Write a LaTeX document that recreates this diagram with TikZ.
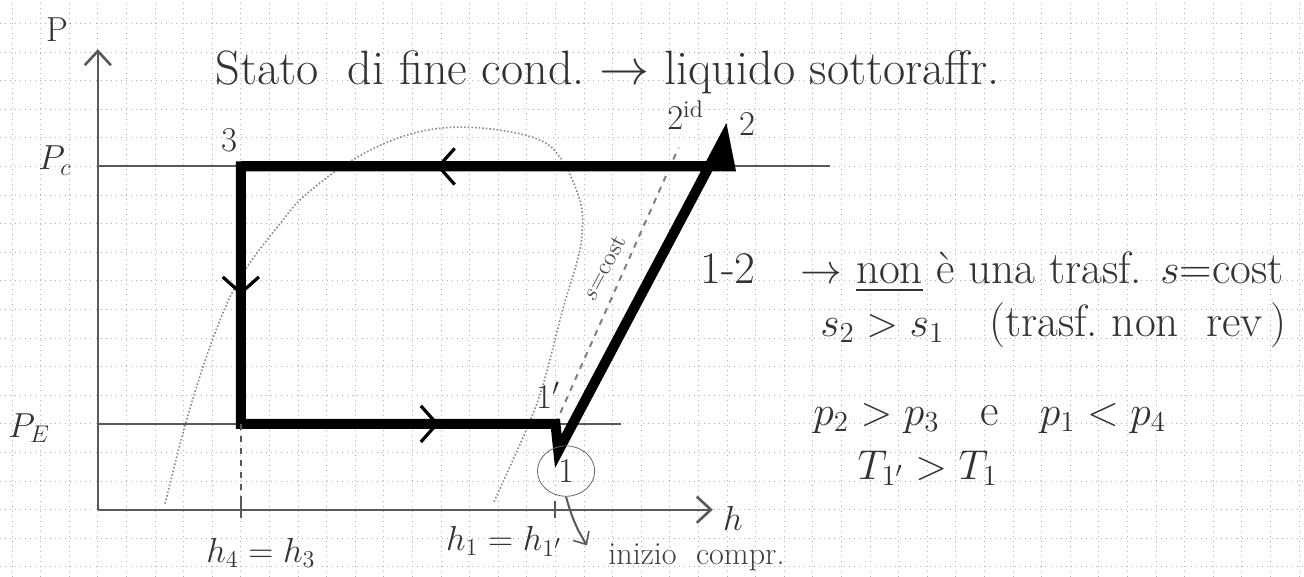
\documentclass[tikz,border=0pt]{standalone}
\usepackage{fontspec}
\usepackage{amsmath}
\usetikzlibrary{arrows.meta,positioning,decorations.markings,shapes.geometric}

\begin{document}
\begin{tikzpicture}[x=5mm,y=5mm,
  >={Straight Barb[length=7pt,width=13pt,line width=1.3pt]},
  paper/.style={gray!60,dotted,line width=0.5pt},
  guide/.style={line width=1pt,black!65},
  cyc/.style={line width=5pt,black,line join=miter},
  flow/.style={line width=5pt,black,postaction={decorate},
    decoration={markings,mark=at position #1 with {\arrow{Straight Barb[length=8pt,width=18pt,line width=1.6pt]}}}},
  dome/.style={densely dotted,line width=0.8pt,black!45},
  lab/.style={font=\LARGE,text=black!80,inner sep=1pt},
  note/.style={font=\fontsize{22.5}{27}\selectfont,text=black!80,inner sep=0pt,anchor=west}]
% paper
\fill[white] (-0.42,-2.35) rectangle (45.17,17.82);
\useasboundingbox (-0.42,-2.35) rectangle (45.17,17.82);
\draw[paper,step=5mm] (-0.42,-2.35) grid (45.17,17.82);

% axes
\coordinate (O) at (3,0);
\coordinate (ytop) at (3,16.1);
\coordinate (hend) at (24.5,0);
\draw[guide,->] (O) -- (ytop);
\draw[guide,->] (O) -- (hend);
\node[lab] (lP) at (1.6,16.8) {P};
\node[lab] (lh) at (25.2,-0.3) {$h$};

% saturation dome
\draw[dome] plot[smooth,tension=0.6] coordinates {(5.35,0.21) (6.12,3.19) (7.03,6.0) (7.97,8.1) (9.37,10.0)
  (10.31,11.05) (12.06,12.32) (14.02,13.16) (16.0,13.37) (18.2,13.02) (19.16,12.32) (19.86,10.8)
  (19.93,9.65) (19.76,8.7) (19.27,7.05) (18.57,4.39) (18.0,2.84) (16.85,0.28)};

% pressure levels
\coordinate (pcL) at (3,12);
\coordinate (pcR) at (28.6,12);
\coordinate (peL) at (3,3);
\coordinate (peR) at (21.3,3);
\draw[guide] (pcL) -- (pcR);
\draw[guide] (peL) -- (peR);
\node[lab] (lpc) at (1.5,12.2) {$P_c$};
\node[lab] (lpe) at (0.6,2.85) {$P_E$};

% cycle points
\coordinate (p3) at (8,12);
\coordinate (p4) at (8,3);
\coordinate (p1p) at (19,3);
\coordinate (p1) at (19.1,2.05);
\coordinate (p2) at (24.9,13);
\coordinate (p2b) at (25.1,12);
\coordinate (p2id) at (23.3,12.65);

% isentropic compression
\draw[guide,dashed,black!50] (p1p) -- (p2id);
\node[font=\large,text=black!70,rotate=62] (lsc) at (20.7,8.45) {$s$=cost};

% cycle
\fill[black] (24.36,12) -- (p2) -- (p2b) -- cycle;
\draw[cyc] (p3) -- (p4) -- (p1p) -- (p1) -- (p2) -- (p2b) -- cycle;
\draw[flow=0.6] (p2b) -- (p3);
\draw[flow=0.5] (p3) -- (p4);
\draw[flow=0.63] (p4) -- (p1p);

\node[lab] (l3) at (7.62,12.9) {3};
\node[lab] (l2) at (25.7,13.5) {2};
\node[lab] (l2id) at (23.55,13.8) {$2^{\mathrm{id}}$};
\node[lab] (l1p) at (18.75,4.0) {1$'$};
\node[lab,draw=black!60,ellipse,minimum width=10mm,minimum height=8.8mm,inner sep=0pt] (l1) at (19.37,1.35) {1};

% enthalpy marks
\draw[guide,dashed] (p4) -- (8,0);
\draw[guide] (8,-0.3) -- (8,0.3);
\draw[guide] (19,-0.3) -- (19,0.3);
\node[lab] (lh43) at (8.7,-1.5) {$h_4 = h_3$};
\node[lab] (lh11) at (17.2,-1.1) {$h_1 = h_{1'}$};
\coordinate (aend) at (20.1,-1.25);
\draw[guide,-{Straight Barb[length=5pt,width=9pt,line width=0.8pt]}] (l1.south) to[bend right=8] (aend);
\node[font=\fontsize{16}{19}\selectfont,text=black!75,anchor=west] (lini) at (20.6,-1.65) {inizio\ \ compr.};

% notes
\node[note,font=\fontsize{24}{29}\selectfont] (title) at (7.1,15.3) {Stato\ \ di fine cond.\ $\rightarrow$\ liquido sottoraffr.};
\node[note] (n12) at (24.05,8.3) {1-2\quad $\rightarrow$ \underline{non} è una trasf. $s$=cost};
\node[note] (ns) at (28.25,6.45) {$s_2 > s_1$\quad (trasf.\ non\ \ rev\,)};
\node[note] (np) at (28.0,3.2) {$p_2 > p_3$\ \ \ e\ \ \ $p_1 < p_4$};
\node[note] (nT) at (29.55,1.45) {$T_{1'} > T_1$};
\end{tikzpicture}
\end{document}
